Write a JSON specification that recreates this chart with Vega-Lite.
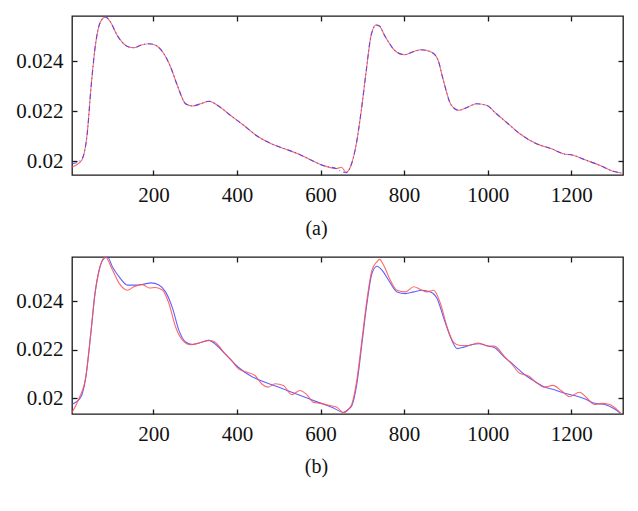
{
  "$schema": "https://vega.github.io/schema/vega-lite/v6.json",
  "padding": {"left": 5, "top": 14, "right": 16, "bottom": 5},
  "background": "white",
  "config": {
    "font": "Liberation Serif",
    "view": {"stroke": "#1a1a1a", "strokeWidth": 1.3},
    "axis": {
      "domain": false,
      "grid": false,
      "ticks": true,
      "tickSize": 5,
      "offset": -5,
      "tickWidth": 1.3,
      "tickColor": "#1a1a1a",
      "labelFont": "Liberation Serif",
      "labelFontSize": 21,
      "labelColor": "#111111",
      "labelPadding": 9,
      "title": null
    },
    "concat": {"spacing": 15},
    "title": {"font": "Liberation Serif", "fontSize": 20, "fontWeight": "normal", "color": "#111111"}
  },
  "datasets": {
    "a": [
      {"index": 5, "value": 0.01989, "series": "blue"},
      {"index": 15, "value": 0.01993, "series": "blue"},
      {"index": 29, "value": 0.02009, "series": "blue"},
      {"index": 41, "value": 0.02103, "series": "blue"},
      {"index": 51, "value": 0.02303, "series": "blue"},
      {"index": 61, "value": 0.02463, "series": "blue"},
      {"index": 73, "value": 0.02556, "series": "blue"},
      {"index": 85, "value": 0.02576, "series": "blue"},
      {"index": 97, "value": 0.02556, "series": "blue"},
      {"index": 113, "value": 0.02503, "series": "blue"},
      {"index": 128, "value": 0.0247, "series": "blue"},
      {"index": 141, "value": 0.02456, "series": "blue"},
      {"index": 153, "value": 0.02453, "series": "blue"},
      {"index": 169, "value": 0.02463, "series": "blue"},
      {"index": 189, "value": 0.02469, "series": "blue"},
      {"index": 205, "value": 0.02463, "series": "blue"},
      {"index": 225, "value": 0.02429, "series": "blue"},
      {"index": 241, "value": 0.02376, "series": "blue"},
      {"index": 257, "value": 0.02303, "series": "blue"},
      {"index": 277, "value": 0.02229, "series": "blue"},
      {"index": 293, "value": 0.0222, "series": "blue"},
      {"index": 313, "value": 0.02229, "series": "blue"},
      {"index": 333, "value": 0.02239, "series": "blue"},
      {"index": 353, "value": 0.02223, "series": "blue"},
      {"index": 384, "value": 0.02183, "series": "blue"},
      {"index": 416, "value": 0.02143, "series": "blue"},
      {"index": 448, "value": 0.021, "series": "blue"},
      {"index": 482, "value": 0.02069, "series": "blue"},
      {"index": 514, "value": 0.02049, "series": "blue"},
      {"index": 546, "value": 0.02029, "series": "blue"},
      {"index": 578, "value": 0.02003, "series": "blue"},
      {"index": 610, "value": 0.0198, "series": "blue"},
      {"index": 638, "value": 0.01969, "series": "blue"},
      {"index": 650, "value": 0.01958, "series": "blue"},
      {"index": 661, "value": 0.01953, "series": "blue"},
      {"index": 673, "value": 0.01983, "series": "blue"},
      {"index": 685, "value": 0.02063, "series": "blue"},
      {"index": 697, "value": 0.02196, "series": "blue"},
      {"index": 709, "value": 0.02356, "series": "blue"},
      {"index": 721, "value": 0.02503, "series": "blue"},
      {"index": 733, "value": 0.02543, "series": "blue"},
      {"index": 741, "value": 0.0254, "series": "blue"},
      {"index": 753, "value": 0.02503, "series": "blue"},
      {"index": 765, "value": 0.0247, "series": "blue"},
      {"index": 777, "value": 0.02443, "series": "blue"},
      {"index": 801, "value": 0.02425, "series": "blue"},
      {"index": 825, "value": 0.02439, "series": "blue"},
      {"index": 841, "value": 0.02445, "series": "blue"},
      {"index": 865, "value": 0.02436, "series": "blue"},
      {"index": 881, "value": 0.02405, "series": "blue"},
      {"index": 893, "value": 0.02329, "series": "blue"},
      {"index": 913, "value": 0.02223, "series": "blue"},
      {"index": 931, "value": 0.02203, "series": "blue"},
      {"index": 953, "value": 0.02216, "series": "blue"},
      {"index": 973, "value": 0.02229, "series": "blue"},
      {"index": 997, "value": 0.02223, "series": "blue"},
      {"index": 1021, "value": 0.02189, "series": "blue"},
      {"index": 1049, "value": 0.02149, "series": "blue"},
      {"index": 1077, "value": 0.02109, "series": "blue"},
      {"index": 1117, "value": 0.02069, "series": "blue"},
      {"index": 1153, "value": 0.02049, "series": "blue"},
      {"index": 1181, "value": 0.02029, "series": "blue"},
      {"index": 1205, "value": 0.02023, "series": "blue"},
      {"index": 1236, "value": 0.02003, "series": "blue"},
      {"index": 1268, "value": 0.01983, "series": "blue"},
      {"index": 1300, "value": 0.01959, "series": "blue"},
      {"index": 1320, "value": 0.01952, "series": "blue"},
      {"index": 5, "value": 0.01976, "series": "red"},
      {"index": 15, "value": 0.01984, "series": "red"},
      {"index": 29, "value": 0.02005, "series": "red"},
      {"index": 41, "value": 0.02103, "series": "red"},
      {"index": 51, "value": 0.02303, "series": "red"},
      {"index": 61, "value": 0.02463, "series": "red"},
      {"index": 73, "value": 0.02556, "series": "red"},
      {"index": 85, "value": 0.02576, "series": "red"},
      {"index": 97, "value": 0.02556, "series": "red"},
      {"index": 113, "value": 0.02503, "series": "red"},
      {"index": 128, "value": 0.0247, "series": "red"},
      {"index": 141, "value": 0.02456, "series": "red"},
      {"index": 153, "value": 0.02453, "series": "red"},
      {"index": 169, "value": 0.02463, "series": "red"},
      {"index": 189, "value": 0.02469, "series": "red"},
      {"index": 205, "value": 0.02463, "series": "red"},
      {"index": 225, "value": 0.02429, "series": "red"},
      {"index": 241, "value": 0.02376, "series": "red"},
      {"index": 257, "value": 0.02303, "series": "red"},
      {"index": 277, "value": 0.02229, "series": "red"},
      {"index": 293, "value": 0.0222, "series": "red"},
      {"index": 313, "value": 0.02229, "series": "red"},
      {"index": 333, "value": 0.02239, "series": "red"},
      {"index": 353, "value": 0.02223, "series": "red"},
      {"index": 384, "value": 0.02183, "series": "red"},
      {"index": 416, "value": 0.02143, "series": "red"},
      {"index": 448, "value": 0.021, "series": "red"},
      {"index": 482, "value": 0.02069, "series": "red"},
      {"index": 514, "value": 0.02049, "series": "red"},
      {"index": 546, "value": 0.02029, "series": "red"},
      {"index": 578, "value": 0.02003, "series": "red"},
      {"index": 610, "value": 0.0198, "series": "red"},
      {"index": 638, "value": 0.0197, "series": "red"},
      {"index": 650, "value": 0.01975, "series": "red"},
      {"index": 661, "value": 0.01955, "series": "red"},
      {"index": 673, "value": 0.01983, "series": "red"},
      {"index": 685, "value": 0.02063, "series": "red"},
      {"index": 697, "value": 0.02196, "series": "red"},
      {"index": 709, "value": 0.02356, "series": "red"},
      {"index": 721, "value": 0.02503, "series": "red"},
      {"index": 733, "value": 0.02545, "series": "red"},
      {"index": 741, "value": 0.0254, "series": "red"},
      {"index": 753, "value": 0.02503, "series": "red"},
      {"index": 765, "value": 0.0247, "series": "red"},
      {"index": 777, "value": 0.02443, "series": "red"},
      {"index": 801, "value": 0.02425, "series": "red"},
      {"index": 825, "value": 0.02439, "series": "red"},
      {"index": 841, "value": 0.02445, "series": "red"},
      {"index": 865, "value": 0.02436, "series": "red"},
      {"index": 881, "value": 0.02405, "series": "red"},
      {"index": 893, "value": 0.02329, "series": "red"},
      {"index": 913, "value": 0.02223, "series": "red"},
      {"index": 931, "value": 0.02203, "series": "red"},
      {"index": 953, "value": 0.02216, "series": "red"},
      {"index": 973, "value": 0.02229, "series": "red"},
      {"index": 997, "value": 0.02223, "series": "red"},
      {"index": 1021, "value": 0.02189, "series": "red"},
      {"index": 1049, "value": 0.02149, "series": "red"},
      {"index": 1077, "value": 0.02109, "series": "red"},
      {"index": 1117, "value": 0.02069, "series": "red"},
      {"index": 1153, "value": 0.02049, "series": "red"},
      {"index": 1181, "value": 0.02029, "series": "red"},
      {"index": 1205, "value": 0.02023, "series": "red"},
      {"index": 1236, "value": 0.02003, "series": "red"},
      {"index": 1268, "value": 0.01983, "series": "red"},
      {"index": 1300, "value": 0.01959, "series": "red"},
      {"index": 1320, "value": 0.01952, "series": "red"}
    ],
    "b": [
      {"index": 4, "value": 0.01974, "series": "blue"},
      {"index": 26, "value": 0.02004, "series": "blue"},
      {"index": 38, "value": 0.02087, "series": "blue"},
      {"index": 50, "value": 0.02267, "series": "blue"},
      {"index": 60, "value": 0.02432, "series": "blue"},
      {"index": 70, "value": 0.02529, "series": "blue"},
      {"index": 82, "value": 0.02577, "series": "blue"},
      {"index": 90, "value": 0.02583, "series": "blue"},
      {"index": 102, "value": 0.02542, "series": "blue"},
      {"index": 118, "value": 0.02501, "series": "blue"},
      {"index": 138, "value": 0.02467, "series": "blue"},
      {"index": 158, "value": 0.02467, "series": "blue"},
      {"index": 177, "value": 0.02471, "series": "blue"},
      {"index": 194, "value": 0.02476, "series": "blue"},
      {"index": 213, "value": 0.02467, "series": "blue"},
      {"index": 229, "value": 0.02439, "series": "blue"},
      {"index": 246, "value": 0.0237, "series": "blue"},
      {"index": 261, "value": 0.0228, "series": "blue"},
      {"index": 277, "value": 0.02232, "series": "blue"},
      {"index": 294, "value": 0.02222, "series": "blue"},
      {"index": 317, "value": 0.02232, "series": "blue"},
      {"index": 333, "value": 0.02239, "series": "blue"},
      {"index": 347, "value": 0.02225, "series": "blue"},
      {"index": 371, "value": 0.02184, "series": "blue"},
      {"index": 403, "value": 0.02128, "series": "blue"},
      {"index": 435, "value": 0.0209, "series": "blue"},
      {"index": 467, "value": 0.02066, "series": "blue"},
      {"index": 499, "value": 0.02046, "series": "blue"},
      {"index": 531, "value": 0.02025, "series": "blue"},
      {"index": 563, "value": 0.02004, "series": "blue"},
      {"index": 595, "value": 0.01983, "series": "blue"},
      {"index": 627, "value": 0.01963, "series": "blue"},
      {"index": 655, "value": 0.01942, "series": "blue"},
      {"index": 667, "value": 0.01955, "series": "blue"},
      {"index": 675, "value": 0.0197, "series": "blue"},
      {"index": 687, "value": 0.0206, "series": "blue"},
      {"index": 699, "value": 0.02225, "series": "blue"},
      {"index": 711, "value": 0.02391, "series": "blue"},
      {"index": 723, "value": 0.02515, "series": "blue"},
      {"index": 735, "value": 0.02545, "series": "blue"},
      {"index": 747, "value": 0.02529, "series": "blue"},
      {"index": 763, "value": 0.02487, "series": "blue"},
      {"index": 783, "value": 0.02439, "series": "blue"},
      {"index": 803, "value": 0.02432, "series": "blue"},
      {"index": 823, "value": 0.02439, "series": "blue"},
      {"index": 843, "value": 0.02446, "series": "blue"},
      {"index": 863, "value": 0.02439, "series": "blue"},
      {"index": 879, "value": 0.02412, "series": "blue"},
      {"index": 894, "value": 0.02335, "series": "blue"},
      {"index": 911, "value": 0.02253, "series": "blue"},
      {"index": 927, "value": 0.02205, "series": "blue"},
      {"index": 943, "value": 0.02211, "series": "blue"},
      {"index": 963, "value": 0.02222, "series": "blue"},
      {"index": 978, "value": 0.02225, "series": "blue"},
      {"index": 1002, "value": 0.02215, "series": "blue"},
      {"index": 1016, "value": 0.02209, "series": "blue"},
      {"index": 1040, "value": 0.0217, "series": "blue"},
      {"index": 1064, "value": 0.02135, "series": "blue"},
      {"index": 1088, "value": 0.02098, "series": "blue"},
      {"index": 1112, "value": 0.0207, "series": "blue"},
      {"index": 1136, "value": 0.02046, "series": "blue"},
      {"index": 1160, "value": 0.02035, "series": "blue"},
      {"index": 1184, "value": 0.02021, "series": "blue"},
      {"index": 1208, "value": 0.02011, "series": "blue"},
      {"index": 1232, "value": 0.01998, "series": "blue"},
      {"index": 1256, "value": 0.01979, "series": "blue"},
      {"index": 1280, "value": 0.01974, "series": "blue"},
      {"index": 1304, "value": 0.01956, "series": "blue"},
      {"index": 1320, "value": 0.01935, "series": "blue"},
      {"index": 4, "value": 0.01938, "series": "red"},
      {"index": 22, "value": 0.02, "series": "red"},
      {"index": 38, "value": 0.02087, "series": "red"},
      {"index": 50, "value": 0.02267, "series": "red"},
      {"index": 60, "value": 0.02432, "series": "red"},
      {"index": 70, "value": 0.02529, "series": "red"},
      {"index": 85, "value": 0.02583, "series": "red"},
      {"index": 102, "value": 0.02529, "series": "red"},
      {"index": 118, "value": 0.02474, "series": "red"},
      {"index": 138, "value": 0.02446, "series": "red"},
      {"index": 153, "value": 0.0246, "series": "red"},
      {"index": 174, "value": 0.02469, "series": "red"},
      {"index": 190, "value": 0.02455, "series": "red"},
      {"index": 205, "value": 0.02457, "series": "red"},
      {"index": 222, "value": 0.02446, "series": "red"},
      {"index": 237, "value": 0.02391, "series": "red"},
      {"index": 253, "value": 0.02294, "series": "red"},
      {"index": 270, "value": 0.02239, "series": "red"},
      {"index": 289, "value": 0.02221, "series": "red"},
      {"index": 309, "value": 0.02228, "series": "red"},
      {"index": 333, "value": 0.02239, "series": "red"},
      {"index": 347, "value": 0.02232, "series": "red"},
      {"index": 371, "value": 0.02184, "series": "red"},
      {"index": 387, "value": 0.02156, "series": "red"},
      {"index": 403, "value": 0.02122, "series": "red"},
      {"index": 423, "value": 0.02108, "series": "red"},
      {"index": 443, "value": 0.02094, "series": "red"},
      {"index": 459, "value": 0.0206, "series": "red"},
      {"index": 475, "value": 0.02046, "series": "red"},
      {"index": 491, "value": 0.0206, "series": "red"},
      {"index": 511, "value": 0.02053, "series": "red"},
      {"index": 531, "value": 0.02015, "series": "red"},
      {"index": 551, "value": 0.02032, "series": "red"},
      {"index": 567, "value": 0.02015, "series": "red"},
      {"index": 583, "value": 0.01983, "series": "red"},
      {"index": 599, "value": 0.01979, "series": "red"},
      {"index": 623, "value": 0.0197, "series": "red"},
      {"index": 639, "value": 0.01963, "series": "red"},
      {"index": 655, "value": 0.0194, "series": "red"},
      {"index": 667, "value": 0.01955, "series": "red"},
      {"index": 675, "value": 0.01977, "series": "red"},
      {"index": 687, "value": 0.02077, "series": "red"},
      {"index": 699, "value": 0.0224, "series": "red"},
      {"index": 711, "value": 0.02405, "series": "red"},
      {"index": 723, "value": 0.02529, "series": "red"},
      {"index": 735, "value": 0.02563, "series": "red"},
      {"index": 741, "value": 0.02573, "series": "red"},
      {"index": 751, "value": 0.02549, "series": "red"},
      {"index": 767, "value": 0.02487, "series": "red"},
      {"index": 783, "value": 0.02446, "series": "red"},
      {"index": 803, "value": 0.02439, "series": "red"},
      {"index": 823, "value": 0.0246, "series": "red"},
      {"index": 839, "value": 0.02449, "series": "red"},
      {"index": 855, "value": 0.02439, "series": "red"},
      {"index": 871, "value": 0.02446, "series": "red"},
      {"index": 887, "value": 0.02391, "series": "red"},
      {"index": 903, "value": 0.02294, "series": "red"},
      {"index": 918, "value": 0.02232, "series": "red"},
      {"index": 934, "value": 0.02218, "series": "red"},
      {"index": 954, "value": 0.02218, "series": "red"},
      {"index": 978, "value": 0.02228, "series": "red"},
      {"index": 1002, "value": 0.02215, "series": "red"},
      {"index": 1016, "value": 0.02215, "series": "red"},
      {"index": 1040, "value": 0.02173, "series": "red"},
      {"index": 1056, "value": 0.02145, "series": "red"},
      {"index": 1076, "value": 0.02104, "series": "red"},
      {"index": 1100, "value": 0.0209, "series": "red"},
      {"index": 1116, "value": 0.02066, "series": "red"},
      {"index": 1136, "value": 0.02046, "series": "red"},
      {"index": 1156, "value": 0.02053, "series": "red"},
      {"index": 1176, "value": 0.02032, "series": "red"},
      {"index": 1196, "value": 0.02007, "series": "red"},
      {"index": 1220, "value": 0.02025, "series": "red"},
      {"index": 1236, "value": 0.02004, "series": "red"},
      {"index": 1256, "value": 0.01974, "series": "red"},
      {"index": 1272, "value": 0.01979, "series": "red"},
      {"index": 1292, "value": 0.01974, "series": "red"},
      {"index": 1308, "value": 0.01956, "series": "red"},
      {"index": 1320, "value": 0.01935, "series": "red"}
    ]
  },
  "vconcat": [
    {
      "width": 551,
      "height": 159,
      "title": {"text": "(a)", "orient": "bottom", "anchor": "middle", "dx": -31, "offset": 14},
      "data": {"name": "a"},
      "layer": [
        {
          "transform": [{"filter": "datum.series === 'red'"}],
          "mark": {"type": "line", "color": "#ff4f4f", "strokeWidth": 1.1, "opacity": 0.85, "interpolate": "monotone", "clip": true},
          "encoding": {
            "x": {"field": "index", "type": "quantitative", "scale": {"domain": [5, 1324], "nice": false, "zero": false},
                  "axis": {"orient": "bottom", "values": [200, 400, 600, 800, 1000, 1200], "format": "d", "minExtent": 30, "maxExtent": 30}},
            "y": {"field": "value", "type": "quantitative", "scale": {"domain": [0.01944, 0.0258], "nice": false, "zero": false},
                  "axis": {"orient": "left", "values": [0.02, 0.022, 0.024], "format": "~g", "minExtent": 71, "maxExtent": 71}}
          }
        },
        {
          "transform": [{"filter": "datum.series === 'blue'"}],
          "mark": {"type": "line", "color": "#3a3aff", "strokeWidth": 1.1, "opacity": 0.8, "strokeDash": [5, 3, 1, 3], "interpolate": "monotone", "clip": true},
          "encoding": {
            "x": {"field": "index", "type": "quantitative",
                  "axis": {"orient": "top", "values": [200, 400, 600, 800, 1000, 1200], "labels": false, "minExtent": 0, "maxExtent": 0}},
            "y": {"field": "value", "type": "quantitative",
                  "axis": {"orient": "right", "values": [0.02, 0.022, 0.024], "labels": false, "minExtent": 0, "maxExtent": 0}}
          }
        }
      ],
      "resolve": {"axis": {"x": "independent", "y": "independent"}}
    },
    {
      "width": 551,
      "height": 157,
      "title": {"text": "(b)", "orient": "bottom", "anchor": "middle", "dx": -31, "offset": 13},
      "data": {"name": "b"},
      "layer": [
        {
          "transform": [{"filter": "datum.series === 'blue'"}],
          "mark": {"type": "line", "color": "#3a3aff", "strokeWidth": 1.1, "opacity": 0.8, "interpolate": "monotone", "clip": true},
          "encoding": {
            "x": {"field": "index", "type": "quantitative", "scale": {"domain": [5, 1324], "nice": false, "zero": false},
                  "axis": {"orient": "bottom", "values": [200, 400, 600, 800, 1000, 1200], "format": "d", "minExtent": 30, "maxExtent": 30}},
            "y": {"field": "value", "type": "quantitative", "scale": {"domain": [0.01935, 0.02583], "nice": false, "zero": false},
                  "axis": {"orient": "left", "values": [0.02, 0.022, 0.024], "format": "~g", "minExtent": 71, "maxExtent": 71}}
          }
        },
        {
          "transform": [{"filter": "datum.series === 'red'"}],
          "mark": {"type": "line", "color": "#ff4f4f", "strokeWidth": 1.1, "opacity": 0.85, "interpolate": "monotone", "clip": true},
          "encoding": {
            "x": {"field": "index", "type": "quantitative",
                  "axis": {"orient": "top", "values": [200, 400, 600, 800, 1000, 1200], "labels": false, "minExtent": 0, "maxExtent": 0}},
            "y": {"field": "value", "type": "quantitative",
                  "axis": {"orient": "right", "values": [0.02, 0.022, 0.024], "labels": false, "minExtent": 0, "maxExtent": 0}}
          }
        }
      ],
      "resolve": {"axis": {"x": "independent", "y": "independent"}}
    }
  ]
}
